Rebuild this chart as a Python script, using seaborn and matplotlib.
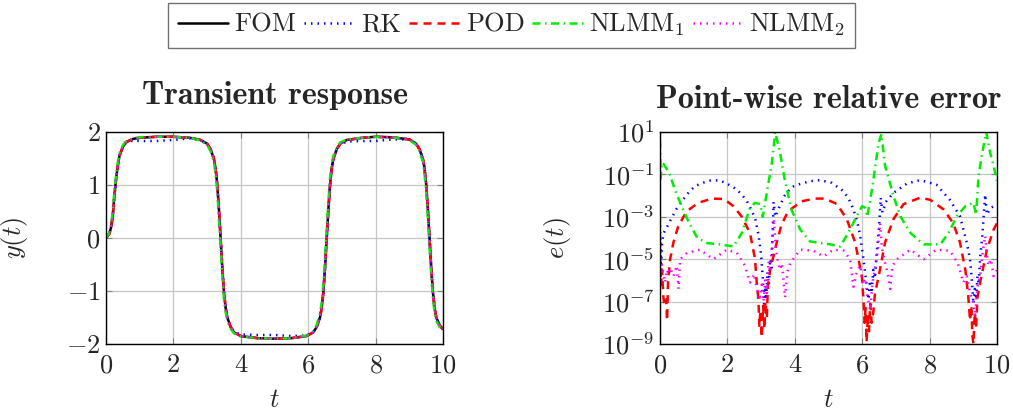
import numpy as np
import matplotlib
matplotlib.use("Agg")
import matplotlib.pyplot as plt
import seaborn as sns

# ---------------- data ----------------
# left panel: transient response y(t)
t_resp = [0.0, 0.1, 0.15, 0.2, 0.25, 0.3, 0.35, 0.4, 0.5, 0.6, 0.8, 1.0, 1.5, 2.0, 2.5,
          2.8, 3.0, 3.1, 3.2, 3.25, 3.3, 3.35, 3.4, 3.45, 3.5, 3.55, 3.6, 3.7, 3.8, 4.0,
          4.5, 5.0, 5.5, 5.95, 6.15, 6.25, 6.35, 6.4, 6.45, 6.5, 6.55, 6.6, 6.65, 6.7,
          6.75, 6.85, 6.95, 7.15, 7.6, 8.0, 8.5, 9.0, 9.2, 9.3, 9.4, 9.45, 9.5, 9.55,
          9.6, 9.65, 9.7, 9.75, 9.8, 9.9, 10.0]
y_fom = [0.0, 0.08, 0.2, 0.42, 0.8, 1.12, 1.36, 1.55, 1.72, 1.81, 1.87, 1.89, 1.91, 1.91, 1.89,
         1.85, 1.78, 1.68, 1.5, 1.32, 1.02, 0.55, 0.0, -0.55, -1.02, -1.32, -1.5, -1.68, -1.78, -1.85,
         -1.89, -1.9, -1.89, -1.85, -1.78, -1.68, -1.5, -1.32, -1.02, -0.55, 0.0, 0.55, 1.02, 1.32,
         1.5, 1.68, 1.78, 1.85, 1.89, 1.91, 1.9, 1.86, 1.78, 1.68, 1.5, 1.32, 1.02, 0.55,
         0.0, -0.55, -1.02, -1.32, -1.5, -1.65, -1.72]
y_rk = [0.0, 0.08, 0.2, 0.42, 0.8, 1.12, 1.36, 1.55, 1.72, 1.8, 1.84, 1.83, 1.83, 1.85, 1.88,
        1.85, 1.78, 1.68, 1.5, 1.32, 1.02, 0.55, 0.0, -0.55, -1.02, -1.32, -1.5, -1.68, -1.77, -1.82,
        -1.83, -1.83, -1.85, -1.84, -1.78, -1.68, -1.5, -1.32, -1.02, -0.55, 0.0, 0.55, 1.02, 1.32,
        1.5, 1.68, 1.77, 1.82, 1.83, 1.83, 1.86, 1.86, 1.78, 1.68, 1.5, 1.32, 1.02, 0.55,
        0.0, -0.55, -1.02, -1.32, -1.5, -1.65, -1.72]
y_pod = [0.0, 0.08, 0.2, 0.42, 0.8, 1.12, 1.36, 1.55, 1.72, 1.81, 1.87, 1.89, 1.91, 1.91, 1.89,
         1.85, 1.78, 1.68, 1.5, 1.32, 1.02, 0.55, 0.0, -0.55, -1.02, -1.32, -1.5, -1.68, -1.78, -1.85,
         -1.89, -1.9, -1.89, -1.85, -1.78, -1.68, -1.5, -1.32, -1.02, -0.55, 0.0, 0.55, 1.02, 1.32,
         1.5, 1.68, 1.78, 1.85, 1.89, 1.91, 1.9, 1.86, 1.78, 1.68, 1.5, 1.32, 1.02, 0.55,
         0.0, -0.55, -1.02, -1.32, -1.5, -1.65, -1.72]
y_nlmm1 = [0.0, 0.1, 0.25, 0.5, 0.9, 1.2, 1.42, 1.6, 1.75, 1.83, 1.88, 1.9, 1.91, 1.91, 1.89,
           1.84, 1.76, 1.64, 1.44, 1.22, 0.88, 0.38, -0.18, -0.7, -1.15, -1.4, -1.56, -1.71, -1.8, -1.86,
           -1.89, -1.9, -1.89, -1.84, -1.76, -1.64, -1.44, -1.22, -0.88, -0.38, 0.18, 0.7, 1.15, 1.4,
           1.56, 1.71, 1.8, 1.86, 1.89, 1.91, 1.9, 1.85, 1.76, 1.64, 1.44, 1.22, 0.88, 0.38,
           -0.18, -0.7, -1.15, -1.4, -1.56, -1.68, -1.74]
y_nlmm2 = [0.0, 0.08, 0.2, 0.42, 0.8, 1.12, 1.36, 1.55, 1.72, 1.81, 1.87, 1.89, 1.91, 1.91, 1.89,
           1.85, 1.78, 1.68, 1.5, 1.32, 1.02, 0.55, 0.0, -0.55, -1.02, -1.32, -1.5, -1.68, -1.78, -1.85,
           -1.89, -1.9, -1.89, -1.85, -1.78, -1.68, -1.5, -1.32, -1.02, -0.55, 0.0, 0.55, 1.02, 1.32,
           1.5, 1.68, 1.78, 1.85, 1.89, 1.91, 1.9, 1.86, 1.78, 1.68, 1.5, 1.32, 1.02, 0.55,
           0.0, -0.55, -1.02, -1.32, -1.5, -1.65, -1.72]

# right panel: point-wise relative error, stored as log10(e)
t_err_rk = [0.0, 0.03, 0.06, 0.1, 0.2, 0.35, 0.5, 0.69, 0.85, 1.04, 1.3, 1.5, 1.75, 1.95, 2.28,
            2.45, 2.58, 2.72, 2.83, 2.93, 3.0, 3.05, 3.09, 3.12, 3.15, 3.19, 3.23, 3.27, 3.31, 3.34,
            3.37, 3.42, 3.55, 3.7, 3.9, 4.16, 4.45, 4.75, 5.1, 5.45, 5.6, 5.74, 5.85, 5.94, 6.02,
            6.09, 6.15, 6.19, 6.23, 6.28, 6.33, 6.38, 6.43, 6.5, 6.55, 6.6, 6.7, 6.93, 7.33, 7.72,
            8.2, 8.6, 8.9, 9.1, 9.2, 9.26, 9.3, 9.34, 9.38, 9.42, 9.46, 9.5, 9.56, 9.62, 9.65,
            9.7, 9.8, 9.9, 10.0]
log_rk = [-3.9, -5.5, -4.3, -3.8, -3.5, -3.04, -2.6, -2.18, -1.85, -1.55, -1.38, -1.29, -1.28, -1.4, -1.71,
          -2.0, -2.27, -2.7, -3.13, -3.92, -4.8, -5.9, -7.1, -6.3, -6.9, -5.6, -6.2, -5.0, -5.4, -3.9,
          -2.3, -3.0, -2.5, -2.0, -1.6, -1.45, -1.32, -1.27, -1.4, -1.8, -2.15, -2.66, -3.2, -3.9, -4.8,
          -5.66, -6.5, -6.9, -6.0, -6.6, -5.5, -5.9, -4.7, -3.5, -2.1, -2.8, -2.3, -1.87, -1.43, -1.27,
          -1.48, -2.2, -2.97, -4.2, -5.0, -6.1, -7.1, -6.4, -6.9, -5.8, -6.2, -4.9, -4.0, -2.6, -1.95,
          -2.9, -2.6, -2.5, -2.4]

t_err_pod = [0.0, 0.03, 0.06, 0.1, 0.14, 0.18, 0.21, 0.24, 0.3, 0.4, 0.54, 0.79, 1.14, 1.54, 1.9,
             2.18, 2.42, 2.67, 2.82, 2.87, 2.92, 2.95, 2.98, 3.02, 3.06, 3.1, 3.13, 3.17, 3.2, 3.27,
             3.45, 3.6, 3.8, 4.2, 4.6, 4.9, 5.25, 5.54, 5.79, 5.99, 6.04, 6.07, 6.1, 6.13, 6.17,
             6.2, 6.24, 6.28, 6.33, 6.38, 6.49, 6.68, 6.93, 7.23, 7.72, 8.02, 8.42, 8.7, 8.9, 9.06,
             9.15, 9.2, 9.24, 9.27, 9.3, 9.34, 9.38, 9.42, 9.5, 9.7, 9.9, 10.0]
log_pod = [-4.8, -6.2, -5.5, -6.8, -7.2, -6.9, -7.9, -6.0, -5.0, -4.2, -3.45, -2.74, -2.34, -2.14, -2.16,
           -2.5, -2.98, -3.76, -5.0, -6.1, -6.9, -8.2, -7.4, -8.7, -7.2, -8.3, -7.0, -7.8, -6.3, -5.5,
           -4.3, -3.4, -2.74, -2.27, -2.14, -2.14, -2.4, -3.1, -4.2, -5.8, -7.0, -8.0, -7.3, -8.9, -7.6,
           -8.4, -7.1, -8.0, -7.5, -6.6, -5.8, -4.2, -3.1, -2.4, -2.1, -2.2, -2.66, -3.3, -4.2, -5.5,
           -6.8, -7.9, -7.2, -8.6, -9.0, -7.5, -8.2, -6.8, -6.1, -4.55, -3.6, -3.3]

t_err_nlmm1 = [0.0, 0.02, 0.05, 0.1, 0.27, 0.46, 0.66, 0.86, 1.11, 1.4, 1.78, 2.18, 2.43, 2.67, 2.82,
               2.97, 3.05, 3.17, 3.32, 3.42, 3.56, 3.7, 3.9, 4.16, 4.45, 5.05, 5.35, 5.64, 5.89, 6.0,
               6.09, 6.15, 6.29, 6.49, 6.57, 6.68, 6.93, 7.13, 7.43, 7.82, 8.32, 8.56, 8.81, 9.06, 9.3,
               9.38, 9.45, 9.55, 9.68, 9.8, 9.9, 10.0]
log_nlmm1 = [0.6, -1.2, -0.45, -0.5, -0.92, -1.79, -2.57, -3.28, -4.0, -4.24, -4.3, -4.4, -3.76, -2.57, -2.34,
             -2.4, -3.0, -1.85, -0.45, 1.0, 0.04, -1.24, -2.66, -3.6, -4.16, -4.3, -4.4, -3.6, -2.8, -2.5,
             -2.58, -3.0, -1.7, 0.5, 0.9, -0.6, -2.03, -2.97, -3.76, -4.3, -4.3, -3.76, -2.97, -2.5, -2.34,
             -2.9, -1.1, -0.1, 1.0, 0.0, -0.6, -1.3]

t_err_nlmm2 = [0.0, 0.03, 0.08, 0.15, 0.2, 0.25, 0.3, 0.4, 0.5, 0.55, 0.6, 0.8, 1.19, 1.58, 1.98,
               2.28, 2.52, 2.67, 2.8, 2.87, 2.97, 3.02, 3.07, 3.12, 3.17, 3.22, 3.27, 3.32, 3.38, 3.42,
               3.47, 3.56, 3.62, 3.71, 3.78, 3.86, 4.16, 4.55, 4.85, 5.15, 5.45, 5.64, 5.74, 5.84, 5.94,
               6.02, 6.09, 6.16, 6.24, 6.3, 6.39, 6.46, 6.53, 6.58, 6.65, 6.73, 6.78, 6.83, 6.9, 7.03,
               7.43, 7.82, 8.2, 8.6, 8.84, 9.0, 9.1, 9.2, 9.28, 9.35, 9.42, 9.5, 9.58, 9.65, 9.7,
               9.75, 9.82, 9.9, 10.0]
log_nlmm2 = [-3.1, -5.0, -5.6, -6.1, -5.5, -5.7, -5.4, -5.8, -5.3, -6.4, -5.0, -4.7, -4.55, -5.0, -4.55,
             -4.7, -5.3, -6.1, -5.7, -6.4, -6.8, -6.2, -7.0, -6.0, -6.6, -5.1, -5.6, -4.4, -3.1, -4.1,
             -4.9, -5.5, -5.2, -6.8, -5.6, -5.2, -4.55, -4.6, -4.87, -4.55, -4.6, -5.0, -6.3, -5.6, -5.3,
             -6.2, -5.9, -6.8, -7.4, -6.2, -5.3, -4.6, -3.3, -4.4, -5.0, -5.5, -5.9, -6.4, -5.3, -5.0,
             -4.55, -5.0, -4.55, -4.6, -5.2, -6.1, -5.8, -6.6, -6.9, -7.7, -6.3, -5.8, -4.6, -3.9, -4.8,
             -5.3, -5.0, -5.8, -5.5]

labels = ["FOM", "RK", "POD", r"NLMM$_1$", r"NLMM$_2$"]
colors = ["black", "blue", "red", "#00ee00", "magenta"]
styles = ["-", (0, (0.6, 2.0)), (0, (3.2, 2.4)), (0, (3.2, 1.8, 0.6, 1.8)), (0, (0.6, 2.0))]

# ---------------- style ----------------
sns.set_style("whitegrid", {"axes.edgecolor": "black", "grid.color": "0.78"})
plt.rcParams["font.family"] = ["cmr10", "DejaVu Serif"]
plt.rcParams["mathtext.fontset"] = "cm"
plt.rcParams["axes.linewidth"] = 1.0

fig = plt.figure(figsize=(10.13, 4.19), dpi=100)
ax1 = fig.add_axes([106 / 1013, 75 / 419, 337 / 1013, 212 / 419])
ax2 = fig.add_axes([660 / 1013, 75 / 419, 337 / 1013, 212 / 419])

resp = [y_fom, y_rk, y_pod, y_nlmm1, y_nlmm2]
errs = [(t_err_rk, log_rk), (t_err_pod, log_pod), (t_err_nlmm1, log_nlmm1), (t_err_nlmm2, log_nlmm2)]

# left: transient response
for y, lab, c, ls in zip(resp, labels, colors, styles):
    sns.lineplot(x=t_resp, y=y, ax=ax1, color=c, linestyle=ls, lw=1.8,
                 label=lab, estimator=None, sort=False)

# right: relative error (no FOM curve)
for (t, lg), c, ls in zip(errs, colors[1:], styles[1:]):
    sns.lineplot(x=t, y=10.0 ** np.array(lg), ax=ax2, color=c, linestyle=ls, lw=1.8,
                 estimator=None, sort=False)

fs = 19
ax1.set_xlim(0, 10)
ax1.set_ylim(-2, 2)
ax1.set_xticks([0, 2, 4, 6, 8, 10])
ax1.set_xticklabels([r"$0$", r"$2$", r"$4$", r"$6$", r"$8$", r"$10$"])
ax1.set_yticks([-2, -1, 0, 1, 2])
ax1.set_yticklabels([r"$-2$", r"$-1$", r"$0$", r"$1$", r"$2$"])
ax1.set_xlabel(r"$t$", fontsize=fs)
ax1.set_ylabel(r"$y(t)$", fontsize=fs)
ax1.yaxis.set_label_coords(-0.225, 0.5)
ax1.set_title("Transient response", fontfamily="cmb10", fontsize=23, pad=20)

ax2.set_yscale("log")
ax2.set_xlim(0, 10)
ax2.set_ylim(1e-9, 1e1)
ax2.set_xticks([0, 2, 4, 6, 8, 10])
ax2.set_xticklabels([r"$0$", r"$2$", r"$4$", r"$6$", r"$8$", r"$10$"])
ax2.set_yticks([1e-9, 1e-7, 1e-5, 1e-3, 1e-1, 1e1])
ax2.set_yticklabels([r"$10^{-9}$", r"$10^{-7}$", r"$10^{-5}$", r"$10^{-3}$", r"$10^{-1}$", r"$10^{1}$"])
ax2.minorticks_off()
ax2.set_xlabel(r"$t$", fontsize=fs)
ax2.set_ylabel(r"$e(t)$", fontsize=fs)
ax2.yaxis.set_label_coords(-0.258, 0.5)
ax2.set_title("Point-wise relative error", fontfamily="cmb10", fontsize=23, pad=17)

for ax in (ax1, ax2):
    ax.tick_params(direction="in", length=4, color="0.5", labelsize=fs,
                   top=True, right=True, bottom=True, left=True)
    ax.tick_params(axis="x", pad=7)
    ax.tick_params(axis="y", pad=4)
    ax.grid(True, lw=0.9)
    ax.xaxis.labelpad = 8
    for sp in ax.spines.values():
        sp.set_color("black")
        sp.set_linewidth(1.0)

handles, labs = ax1.get_legend_handles_labels()
ax1.get_legend().remove()
leg = fig.legend(handles, labs, loc="upper center", bbox_to_anchor=(0.505, 0.997), ncol=5,
                 fontsize=19, frameon=True, fancybox=False, edgecolor="0.3",
                 handlelength=1.9, handletextpad=0.25, columnspacing=0.3, borderpad=0.35,
                 borderaxespad=0.05)
leg.get_frame().set_linewidth(1.0)

fig.savefig("out.png", dpi=100)
